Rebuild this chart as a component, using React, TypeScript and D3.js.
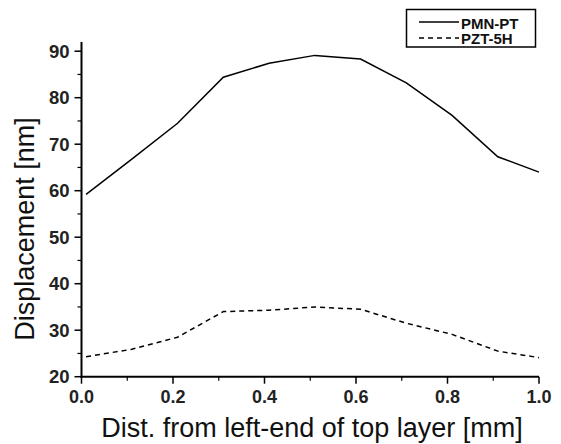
import React from 'react';
import * as d3 from 'd3';

// distance along the top layer [mm]
const DIST = [0.01, 0.11, 0.21, 0.31, 0.41, 0.51, 0.61, 0.71, 0.81, 0.91, 1.0];
const PMN_PT = [59.2, 66.8, 74.5, 84.4, 87.4, 89.1, 88.3, 83.2, 76.2, 67.3, 64.0];
const PZT_5H = [24.3, 25.9, 28.5, 34.0, 34.3, 35.0, 34.5, 31.5, 29.1, 25.5, 24.1];

const X_TICKS = [0, 0.2, 0.4, 0.6, 0.8, 1.0];
const X_MINOR = [0.1, 0.3, 0.5, 0.7, 0.9];
const Y_TICKS = [20, 30, 40, 50, 60, 70, 80, 90];
const Y_MINOR = [25, 35, 45, 55, 65, 75, 85];

const SERIES = [
  { name: 'PMN-PT', values: PMN_PT, dash: undefined },
  { name: 'PZT-5H', values: PZT_5H, dash: '5,4' },
];

const W = 561;
const H = 444;
const FONT = 'Liberation Sans, Arial, sans-serif';

export default function App() {
  const x = d3.scaleLinear().domain([0, 1]).range([81.5, 539]);
  const y = d3.scaleLinear().domain([20, 92]).range([376.7, 41.9]);

  const line = d3
    .line<number>()
    .x((_, i) => x(DIST[i]))
    .y(d => y(d));

  const y0 = y(20);
  const x0 = x(0);

  return (
    <div style={{ position: 'absolute', left: 0, top: 0 }}>
      <svg width={W} height={H} style={{ display: 'block', background: '#fff' }}>
        {/* axes */}
        <line x1={x0} x2={x0} y1={y(92)} y2={y0 + 1} stroke="#000" strokeWidth={2} />
        <line x1={x0 - 1} x2={x(1)} y1={y0} y2={y0} stroke="#000" strokeWidth={2} />

        {Y_TICKS.map(t => (
          <g key={'y' + t}>
            <line x1={x0 - 7} x2={x0} y1={y(t)} y2={y(t)} stroke="#000" strokeWidth={1.5} />
            <text
              x={x0 - 12}
              y={y(t)}
              dy="0.36em"
              textAnchor="end"
              fontFamily={FONT}
              fontSize={18.5}
              fontWeight="bold"
              fill="#222"
            >
              {t}
            </text>
          </g>
        ))}
        {Y_MINOR.map(t => (
          <line key={'ym' + t} x1={x0 - 4} x2={x0} y1={y(t)} y2={y(t)} stroke="#000" strokeWidth={1.2} />
        ))}

        {X_TICKS.map(t => (
          <g key={'x' + t}>
            <line x1={x(t)} x2={x(t)} y1={y0} y2={y0 + 7} stroke="#000" strokeWidth={1.5} />
            <text
              x={x(t)}
              y={y0 + 26}
              textAnchor="middle"
              fontFamily={FONT}
              fontSize={18}
              fontWeight="bold"
              fill="#222"
            >
              {t.toFixed(1)}
            </text>
          </g>
        ))}
        {X_MINOR.map(t => (
          <line key={'xm' + t} x1={x(t)} x2={x(t)} y1={y0} y2={y0 + 4} stroke="#000" strokeWidth={1.2} />
        ))}

        {/* axis titles */}
        <text
          x={312}
          y={437}
          textAnchor="middle"
          fontFamily={FONT}
          fontSize={27}
          fill="#111"
        >
          Dist. from left-end of top layer [mm]
        </text>
        <text
          transform={`translate(34,229) rotate(-90)`}
          textAnchor="middle"
          fontFamily={FONT}
          fontSize={27}
          fill="#111"
        >
          Displacement [nm]
        </text>

        {/* data */}
        {SERIES.map(s => (
          <path
            key={s.name}
            d={line(s.values) || ''}
            fill="none"
            stroke="#000"
            strokeWidth={1.5}
            strokeDasharray={s.dash}
          />
        ))}

        {/* legend */}
        <rect x={406.5} y={9.5} width={129} height={37.5} fill="#fff" stroke="#000" strokeWidth={1.5} />
        {SERIES.map((s, i) => (
          <g key={'lg' + s.name}>
            <line
              x1={419}
              x2={459}
              y1={22 + i * 16}
              y2={22 + i * 16}
              stroke="#000"
              strokeWidth={1.5}
              strokeDasharray={s.dash}
            />
            <text x={461} y={28.5 + i * 15.5} fontFamily={FONT} fontSize={15} fontWeight="bold" fill="#111">
              {s.name}
            </text>
          </g>
        ))}
      </svg>
    </div>
  );
}
